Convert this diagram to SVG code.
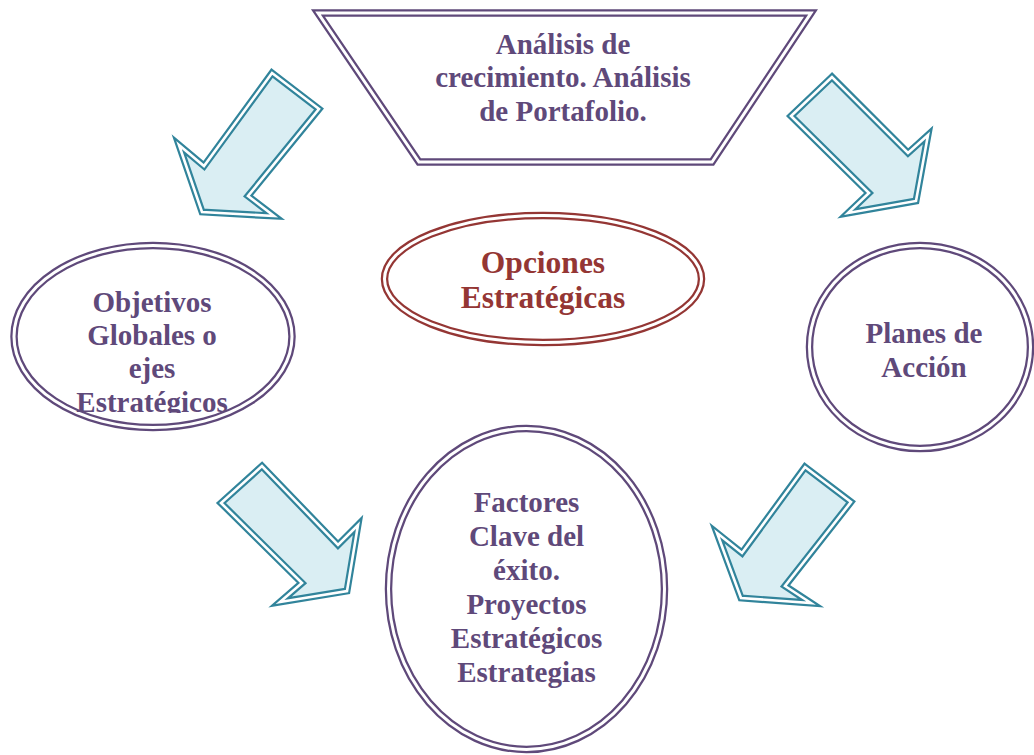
<svg xmlns="http://www.w3.org/2000/svg" width="1034" height="755" viewBox="0 0 1034 755">
<defs>
<style>
.pur{fill:#ffffff;stroke:#5f497a;stroke-width:7.5;stroke-linejoin:miter;stroke-miterlimit:20}
.red{fill:#ffffff;stroke:#943634;stroke-width:7.5}
.gap{fill:none;stroke:#ffffff;stroke-width:3;stroke-linejoin:miter;stroke-miterlimit:20}
.arr{fill:#daeef3;stroke:#31849b;stroke-width:7;stroke-linejoin:miter;stroke-miterlimit:20}
.agap{fill:none;stroke:#ffffff;stroke-width:2.6;stroke-linejoin:miter;stroke-miterlimit:20}
.t{font-family:"Liberation Serif","Times New Roman",serif;font-weight:bold;font-size:29px;fill:#5f497a;text-anchor:middle}
.tr{font-family:"Liberation Serif","Times New Roman",serif;font-weight:bold;font-size:31.5px;fill:#943634;text-anchor:middle}
</style>
<clipPath id="clipLeft"><rect x="0" y="240" width="320" height="173"/></clipPath>
</defs>
<rect width="1034" height="755" fill="#ffffff"/>
<g id="connectors">
<g id="arrow-top-left">
<polygon class="arr" points="272,73 319,109 248,196 274,216 202,212 179,145 204,166"/>
<polygon class="agap" points="272,73 319,109 248,196 274,216 202,212 179,145 204,166"/>
</g>
<g id="arrow-top-right">
<polygon class="arr" points="832,77 791,116 869,193 848,213 916,201 928,135 908,153"/>
<polygon class="agap" points="832,77 791,116 869,193 848,213 916,201 928,135 908,153"/>
</g>
<g id="arrow-bottom-left">
<polygon class="arr" points="262,466 221,503 302,583 280,602 347,591 358,525 338,545"/>
<polygon class="agap" points="262,466 221,503 302,583 280,602 347,591 358,525 338,545"/>
</g>
<g id="arrow-bottom-right">
<polygon class="arr" points="805,467 851,502 785,586 811,603 741,598 717,533 742,553"/>
<polygon class="agap" points="805,467 851,502 785,586 811,603 741,598 717,533 742,553"/>
</g>
</g>
<g id="node-analisis">
<polygon class="pur" points="318,13 811,13 712,162 419,162"/>
<polygon class="gap" points="318,13 811,13 712,162 419,162"/>
<text class="t" x="563" y="54">Análisis de</text>
<text class="t" x="563" y="87">crecimiento. Análisis</text>
<text class="t" x="563" y="121">de Portafolio.</text>
</g>
<g id="node-opciones">
<ellipse class="red" cx="543" cy="279" rx="158.5" ry="63.5"/>
<ellipse class="gap" cx="543" cy="279" rx="158.5" ry="63.5"/>
<text class="tr" x="543" y="273">Opciones</text>
<text class="tr" x="543" y="308">Estratégicas</text>
</g>
<g id="node-objetivos">
<ellipse class="pur" cx="153" cy="336.5" rx="139" ry="91"/>
<ellipse class="gap" cx="153" cy="336.5" rx="139" ry="91"/>
<g clip-path="url(#clipLeft)">
<text class="t" x="152" y="312">Objetivos</text>
<text class="t" x="152" y="345">Globales o</text>
<text class="t" x="152" y="378">ejes</text>
<text class="t" x="152" y="412">Estratégicos</text>
</g>
</g>
<g id="node-planes">
<ellipse class="pur" cx="920" cy="347" rx="110.5" ry="101.5"/>
<ellipse class="gap" cx="920" cy="347" rx="110.5" ry="101.5"/>
<text class="t" x="924" y="343">Planes de</text>
<text class="t" x="924" y="377">Acción</text>
</g>
<g id="node-factores">
<ellipse class="pur" cx="526.5" cy="589" rx="138" ry="160.5"/>
<ellipse class="gap" cx="526.5" cy="589" rx="138" ry="160.5"/>
<text class="t" x="526.5" y="512">Factores</text>
<text class="t" x="526.5" y="546">Clave del</text>
<text class="t" x="526.5" y="580">éxito.</text>
<text class="t" x="526.5" y="614">Proyectos</text>
<text class="t" x="526.5" y="648">Estratégicos</text>
<text class="t" x="526.5" y="682">Estrategias</text>
</g>
</svg>
